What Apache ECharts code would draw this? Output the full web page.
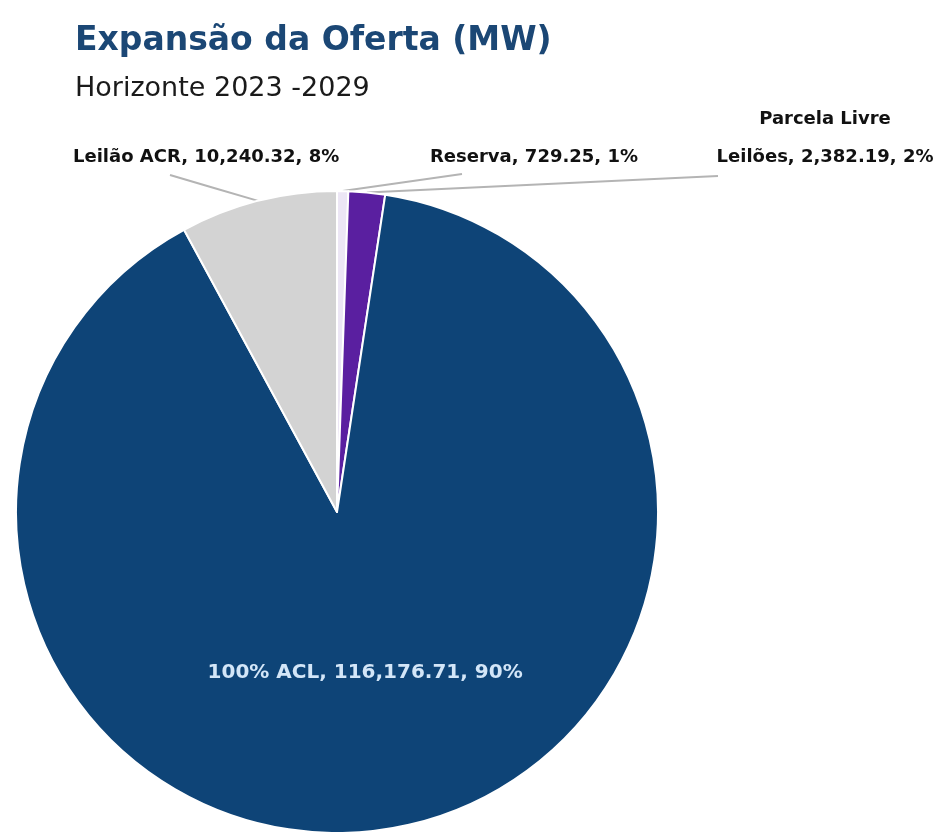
<!DOCTYPE html>
<html>
<head>
<meta charset="utf-8">
<script src="https://cdn.jsdelivr.net/npm/echarts@6/dist/echarts.min.js"></script>
<style>
  html, body { margin: 0; padding: 0; background: #fff; }
  #main { width: 945px; height: 832px; }
</style>
</head>
<body>
<div id="main"></div>
<script>
// dados (MW), em ordem horária a partir do topo
var names = ['Reserva', 'Parcela Livre\nLeilões', '100% ACL', 'Leilão ACR'];
var values = [729.25, 2382.19, 116176.71, 10240.32];
var colors = ['#ece6f5', '#5a1fa0', '#0e4477', '#d3d3d3'];

var total = 0;
for (var k = 0; k < values.length; k++) total += values[k];

function fmt(v) {
    return v.toLocaleString('en-US', { minimumFractionDigits: 2, maximumFractionDigits: 2 });
}

var myChart = echarts.init(document.getElementById('main'));

var data = [];
for (var i = 0; i < names.length; i++) {
    var item = { name: names[i], value: values[i], itemStyle: { color: colors[i] } };
    if (i == 2) {
        item.label = { position: 'inside', color: '#d3e6f8', fontSize: 20, fontWeight: 'bold' };
        item.labelLine = { show: false };
    }
    data.push(item);
}

// posição dos rótulos externos (x, y, alinhamento, deslocamento do fim da linha)
function place(p, x, y, align, dx, dy) {
    var start = p.labelLinePoints ? p.labelLinePoints[0] : [x, y];
    var end = [x + dx, y + dy];
    var mid = [(start[0] + end[0]) / 2, (start[1] + end[1]) / 2];
    return { x: x, y: y, align: align, verticalAlign: 'middle', labelLinePoints: [start, mid, end] };
}

option = {
    title: {
        text: 'Expansão da Oferta (MW)',
        subtext: 'Horizonte 2023 -2029',
        left: 70,
        top: 20,
        itemGap: 17,
        textStyle: { fontFamily: 'DejaVu Sans', fontSize: 33, fontWeight: 'bold', color: '#1b4775' },
        subtextStyle: { fontFamily: 'DejaVu Sans', fontSize: 27, color: '#1a1a1a' }
    },
    series: [
        {
            type: 'pie',
            center: [337, 512],
            radius: 321,
            startAngle: 90,
            clockwise: true,
            avoidLabelOverlap: false,
            itemStyle: { borderColor: '#ffffff', borderWidth: 2 },
            label: {
                show: true,
                position: 'outside',
                fontFamily: 'DejaVu Sans',
                fontSize: 18,
                fontWeight: 'bold',
                color: '#111',
                lineHeight: 38,
                formatter: function (p) {
                    return p.name + ', ' + fmt(p.value) + ', ' + Math.round(p.value / total * 100) + '%';
                }
            },
            labelLine: { show: true, length: 10, length2: 10, lineStyle: { color: '#b4b4b4', width: 2 } },
            labelLayout: function (p) {
                if (p.dataIndex == 0) return place(p, 430, 157, 'left', 32, 17);
                if (p.dataIndex == 1) return place(p, 825, 138, 'center', -107, 38);
                if (p.dataIndex == 3) return place(p, 73, 157, 'left', 97, 18);
                return {};
            },
            data: data
        }
    ]
};
myChart.setOption(option);
</script>
</body>
</html>
